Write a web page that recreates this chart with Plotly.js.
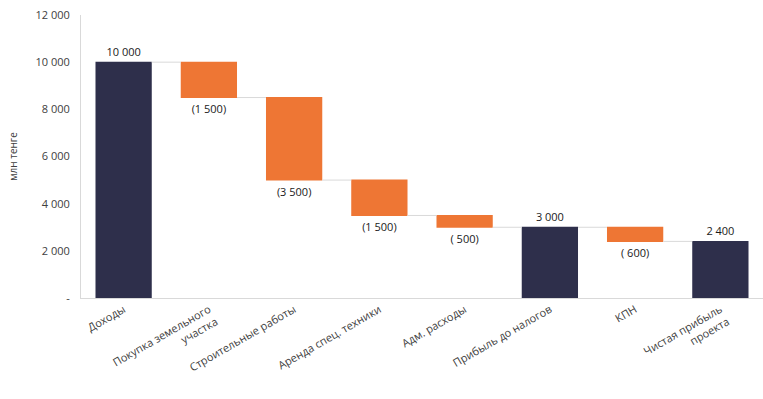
<!DOCTYPE html>
<html><head><meta charset="utf-8">
<script src="https://cdn.plot.ly/plotly-3.0.1.min.js"></script>
<style>html,body{margin:0;padding:0;background:#fff}#c{width:763px;height:399px}</style>
</head><body><div id="c"></div>
<script>
const categories = ["Доходы", "Покупка земельного<br>участка", "Строительные работы", "Аренда спец. техники", "Адм. расходы", "Прибыль до налогов", "КПН", "Чистая прибыль<br>проекта"];
const values = [10000, -1500, -3500, -1500, -500, 0, -600, 0];
const measures = ["absolute", "relative", "relative", "relative", "relative", "total", "relative", "total"];
const yTickVals = [0, 2000, 4000, 6000, 8000, 10000, 12000];
const yTickText = ["-", "2 000", "4 000", "6 000", "8 000", "10 000", "12 000"];

function grp(n) {
  const s = String(Math.abs(n));
  return s.replace(/\B(?=(\d{3})+(?!\d))/g, " ");
}
let run = 0;
const labels = values.map((v, i) => {
  if (measures[i] === "total") return grp(run);
  if (measures[i] === "absolute") run = v; else run += v;
  if (v < 0) { const a = Math.abs(v); return "(" + (a < 1000 ? " " : "") + grp(a) + ")"; }
  return grp(v);
});

const trace = {
  type: "waterfall",
  x: categories,
  y: values,
  measure: measures,
  text: labels,
  textposition: "outside",
  textinfo: "text",
  cliponaxis: false,
  textfont: {family: "Open Sans, sans-serif", size: 11, color: "#1a1a1a"},
  width: 0.66,
  decreasing: {marker: {color: "#EE7634", line: {width: 0}}},
  increasing: {marker: {color: "#2E2F4B", line: {width: 0}}},
  totals: {marker: {color: "#2E2F4B", line: {width: 0}}},
  connector: {mode: "between", line: {color: "#D9D9D9", width: 1}},
  hoverinfo: "none"
};

const layout = {
  width: 763, height: 399,
  margin: {l: 81, r: 0, t: 15, b: 101},
  paper_bgcolor: "#fff", plot_bgcolor: "#fff",
  showlegend: false,
  font: {family: "Open Sans, sans-serif", size: 11, color: "#404040"},
  xaxis: {
    type: "category",
    tickangle: -30,
    showline: true, linecolor: "#D9D9D9", linewidth: 1,
    ticks: "", showgrid: false,
    tickfont: {size: 11, color: "#404040"}
  },
  yaxis: {
    range: [0, 12000],
    tickvals: yTickVals, ticktext: yTickText,
    showline: true, linecolor: "#D9D9D9", linewidth: 1,
    showgrid: false, zeroline: false, ticks: "",
    ticklabelstandoff: 8,
    tickfont: {size: 11, color: "#404040"},
    title: {text: "млн тенге", font: {size: 10, color: "#404040"}, standoff: 15}
  }
};
Plotly.newPlot("c", [trace], layout, {displayModeBar: false, staticPlot: true});
</script></body></html>
